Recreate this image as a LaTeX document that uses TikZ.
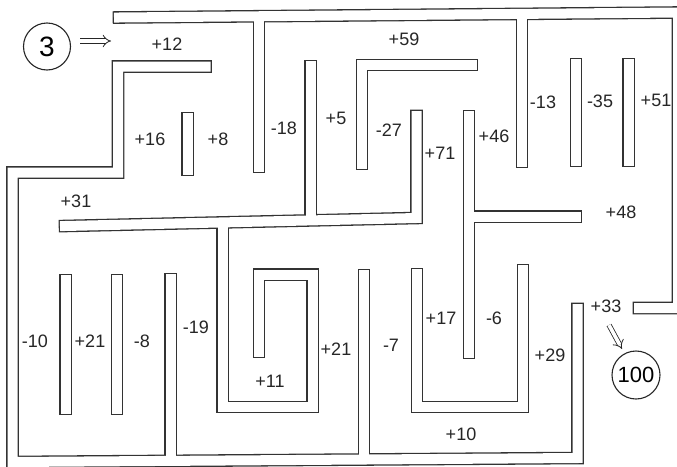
\documentclass[tikz,border=0pt]{standalone}
\usepackage{fontspec}
\setmainfont{Liberation Sans}
\usetikzlibrary{arrows.meta}
\newcommand\mazewalls[1]{%
  % outer frame: top and right
  \draw[#1] (119,17.5) -- (678,12.5) -- (678,308) -- (639,308);
  % left and bottom with the start corridor
  \draw[#1] (205.5,66.5) -- (118,66.5) -- (118,172.5) -- (12.5,172.5) -- (12.5,462) -- (577.5,458) -- (577.5,309);
  % walls hanging from the top
  \draw[#1] (259,20) -- (259,167);
  \draw[#1] (522,17) -- (522,162);
  % free bars
  \draw[#1] (576,64) -- (576,161);
  \draw[#1] (628.5,64) -- (628.5,161);
  \draw[#1] (187.5,118) -- (187.5,170);
  \draw[#1] (65.5,280) -- (65.5,409);
  \draw[#1] (117,280) -- (117,409);
  % walls rising from the bottom
  \draw[#1] (170.5,279) -- (170.5,459);
  \draw[#1] (364,275) -- (364,457);
  % middle structure
  \draw[#1] (65,226) -- (416.5,218) -- (416.5,116);
  \draw[#1] (310.5,66) -- (310.5,218);
  \draw[#1] (222.5,225) -- (222.5,407) -- (312.5,407) -- (312.5,274.5) -- (259,274.5) -- (259,352);
  % +59 L
  \draw[#1] (472,65) -- (362,65) -- (362,164);
  % cross
  \draw[#1] (469,116) -- (469,353);
  \draw[#1] (469,216.5) -- (576,216.5);
  % U
  \draw[#1] (417,274) -- (417,407) -- (523,407) -- (523,270);
}
\begin{document}
\begin{tikzpicture}[x=1pt,y=-1pt,
  wallout/.style={line width=12.6pt, line cap=rect, line join=miter, black!80},
  wallin/.style={line width=10pt, line cap=rect, line join=miter, white},
  lbl/.style={font=\fontsize{18}{21}\selectfont, inner sep=0pt, text=black!85},
  ring/.style={draw=black!85, line width=1.1pt, circle, inner sep=0pt},
  dblarrow/.style={draw=black!85, double, double distance=3.6pt, line width=0.8pt, -{Implies[scale=1.6]}},
]
\useasboundingbox (0,0) rectangle (677,466);
\fill[white] (0,0) rectangle (677,466);
\mazewalls{wallout}
\mazewalls{wallin}

% start and finish
\node[ring, minimum size=47pt, font=\fontsize{28}{30}\selectfont] (start) at (47,46.5) {3};
\coordinate (sa) at (80,41);
\coordinate (sb) at (111,41);
\draw[dblarrow] (sa) -- (sb);
\node[ring, minimum size=48pt, font=\fontsize{22}{24}\selectfont] (finish) at (636,375) {100};
\coordinate (fa) at (609,325);
\coordinate (fb) at (622,349);
\draw[dblarrow] (fa) -- (fb);

% labels
\node[lbl] (l1)  at (167,44)  {+12};
\node[lbl] (l2)  at (150,139) {+16};
\node[lbl] (l3)  at (218,139) {+8};
\node[lbl] (l4)  at (284,128) {-18};
\node[lbl] (l5)  at (336,118) {+5};
\node[lbl] (l6)  at (404,39)  {+59};
\node[lbl] (l7)  at (389,130) {-27};
\node[lbl] (l8)  at (440,153) {+71};
\node[lbl] (l9)  at (494,136) {+46};
\node[lbl] (l10) at (543,102) {-13};
\node[lbl] (l11) at (600,101) {-35};
\node[lbl] (l12) at (656,100) {+51};
\node[lbl] (l13) at (76,201)  {+31};
\node[lbl] (l14) at (621,212) {+48};
\node[lbl] (l15) at (35,341)  {-10};
\node[lbl] (l16) at (90,341)  {+21};
\node[lbl] (l17) at (142,341) {-8};
\node[lbl] (l18) at (196,327) {-19};
\node[lbl] (l19) at (270,381) {+11};
\node[lbl] (l20) at (336,349) {+21};
\node[lbl] (l21) at (391,345) {-7};
\node[lbl] (l22) at (441,318) {+17};
\node[lbl] (l23) at (494,318) {-6};
\node[lbl] (l24) at (550,355) {+29};
\node[lbl] (l25) at (606,306) {+33};
\node[lbl] (l26) at (461,434) {+10};
\end{tikzpicture}
\end{document}
